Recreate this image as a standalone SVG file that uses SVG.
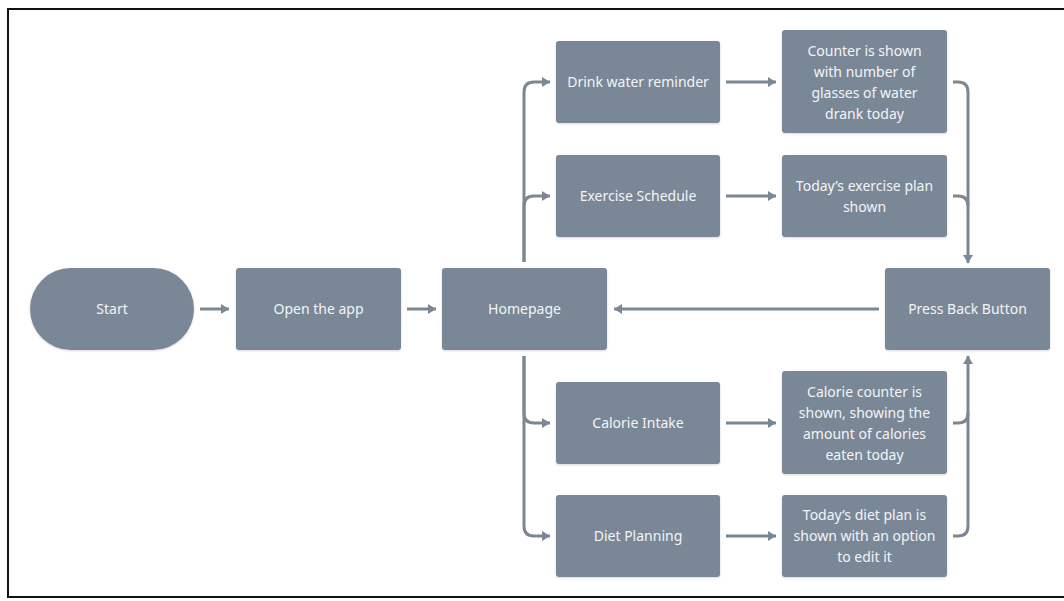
<svg xmlns="http://www.w3.org/2000/svg" width="1064" height="601" viewBox="0 0 1064 601">
<defs>
<marker id="ah" markerUnits="userSpaceOnUse" markerWidth="12" markerHeight="12" viewBox="0 0 12 12" refX="9" refY="6" orient="auto">
<path d="M1,1 L9,6 L1,11 Z" fill="#7b8795"/>
</marker>
<filter id="sh" x="-10%" y="-10%" width="120%" height="130%">
<feDropShadow dx="0" dy="1" stdDeviation="1" flood-color="#000" flood-opacity="0.15"/>
</filter>
</defs>
<style>
.n{fill:#798796;filter:url(#sh)}
.t{font-family:"Noto Sans","Open Sans",sans-serif;font-size:14px;fill:#f4f5f7;text-anchor:middle}
.c{fill:none;stroke:#7b8795;stroke-width:3;marker-end:url(#ah)}
.cn{fill:none;stroke:#7b8795;stroke-width:3}
</style>
<rect x="0" y="0" width="1064" height="601" fill="#fff"/>
<rect x="8" y="9" width="1070" height="588" fill="none" stroke="#111" stroke-width="2"/>
<g id="connectors">
<path class="c" d="M200 309 H229"/>
<path class="c" d="M407 309 H436"/>
<path class="c" d="M524 262 V92 Q524 82 534 82 H550"/>
<path class="c" d="M524 262 V206 Q524 196 534 196 H550"/>
<path class="c" d="M524 356 V413 Q524 423 534 423 H550"/>
<path class="c" d="M524 356 V526 Q524 536 534 536 H550"/>
<path class="c" d="M726 82 H776"/>
<path class="c" d="M726 196 H776"/>
<path class="c" d="M726 423 H776"/>
<path class="c" d="M726 536 H776"/>
<path class="c" d="M953 82 H958 Q968 82 968 92 V263"/>
<path class="cn" d="M953 196 H958 Q968 196 968 206"/>
<path class="c" d="M953 536 H958 Q968 536 968 526 V356"/>
<path class="cn" d="M953 423 H958 Q968 423 968 413"/>
<path class="c" d="M879 309 H614"/>
</g>
<g id="start"><rect class="n" x="30" y="268" width="164" height="82" rx="41"/><text class="t" x="112" y="314">Start</text></g>
<g id="open"><rect class="n" x="236" y="268" width="165" height="82" rx="3"/><text class="t" x="318.5" y="314">Open the app</text></g>
<g id="homepage"><rect class="n" x="442" y="268" width="165" height="82" rx="3"/><text class="t" x="524.5" y="314">Homepage</text></g>
<g id="back"><rect class="n" x="885" y="268" width="165" height="82" rx="3"/><text class="t" x="967.5" y="314">Press Back Button</text></g>
<g id="drink"><rect class="n" x="556" y="41" width="164" height="82" rx="3"/><text class="t" x="638" y="87">Drink water reminder</text></g>
<g id="counter"><rect class="n" x="782" y="30" width="165" height="103" rx="3"/><text class="t" x="864.5" y="56">Counter is shown</text><text class="t" x="864.5" y="77">with number of</text><text class="t" x="864.5" y="98">glasses of water</text><text class="t" x="864.5" y="119">drank today</text></g>
<g id="exercise"><rect class="n" x="556" y="155" width="164" height="82" rx="3"/><text class="t" x="638" y="201">Exercise Schedule</text></g>
<g id="explan"><rect class="n" x="782" y="155" width="165" height="82" rx="3"/><text class="t" x="864.5" y="190.5">Today’s exercise plan</text><text class="t" x="864.5" y="211.5">shown</text></g>
<g id="calorie"><rect class="n" x="556" y="382" width="164" height="82" rx="3"/><text class="t" x="638" y="428">Calorie Intake</text></g>
<g id="calcounter"><rect class="n" x="782" y="371" width="165" height="103" rx="3"/><text class="t" x="864.5" y="397">Calorie counter is</text><text class="t" x="864.5" y="418">shown, showing the</text><text class="t" x="864.5" y="439">amount of calories</text><text class="t" x="864.5" y="460">eaten today</text></g>
<g id="diet"><rect class="n" x="556" y="495" width="164" height="82" rx="3"/><text class="t" x="638" y="541">Diet Planning</text></g>
<g id="dietplan"><rect class="n" x="782" y="495" width="165" height="82" rx="3"/><text class="t" x="864.5" y="520">Today’s diet plan is</text><text class="t" x="864.5" y="541">shown with an option</text><text class="t" x="864.5" y="562">to edit it</text></g>
</svg>
